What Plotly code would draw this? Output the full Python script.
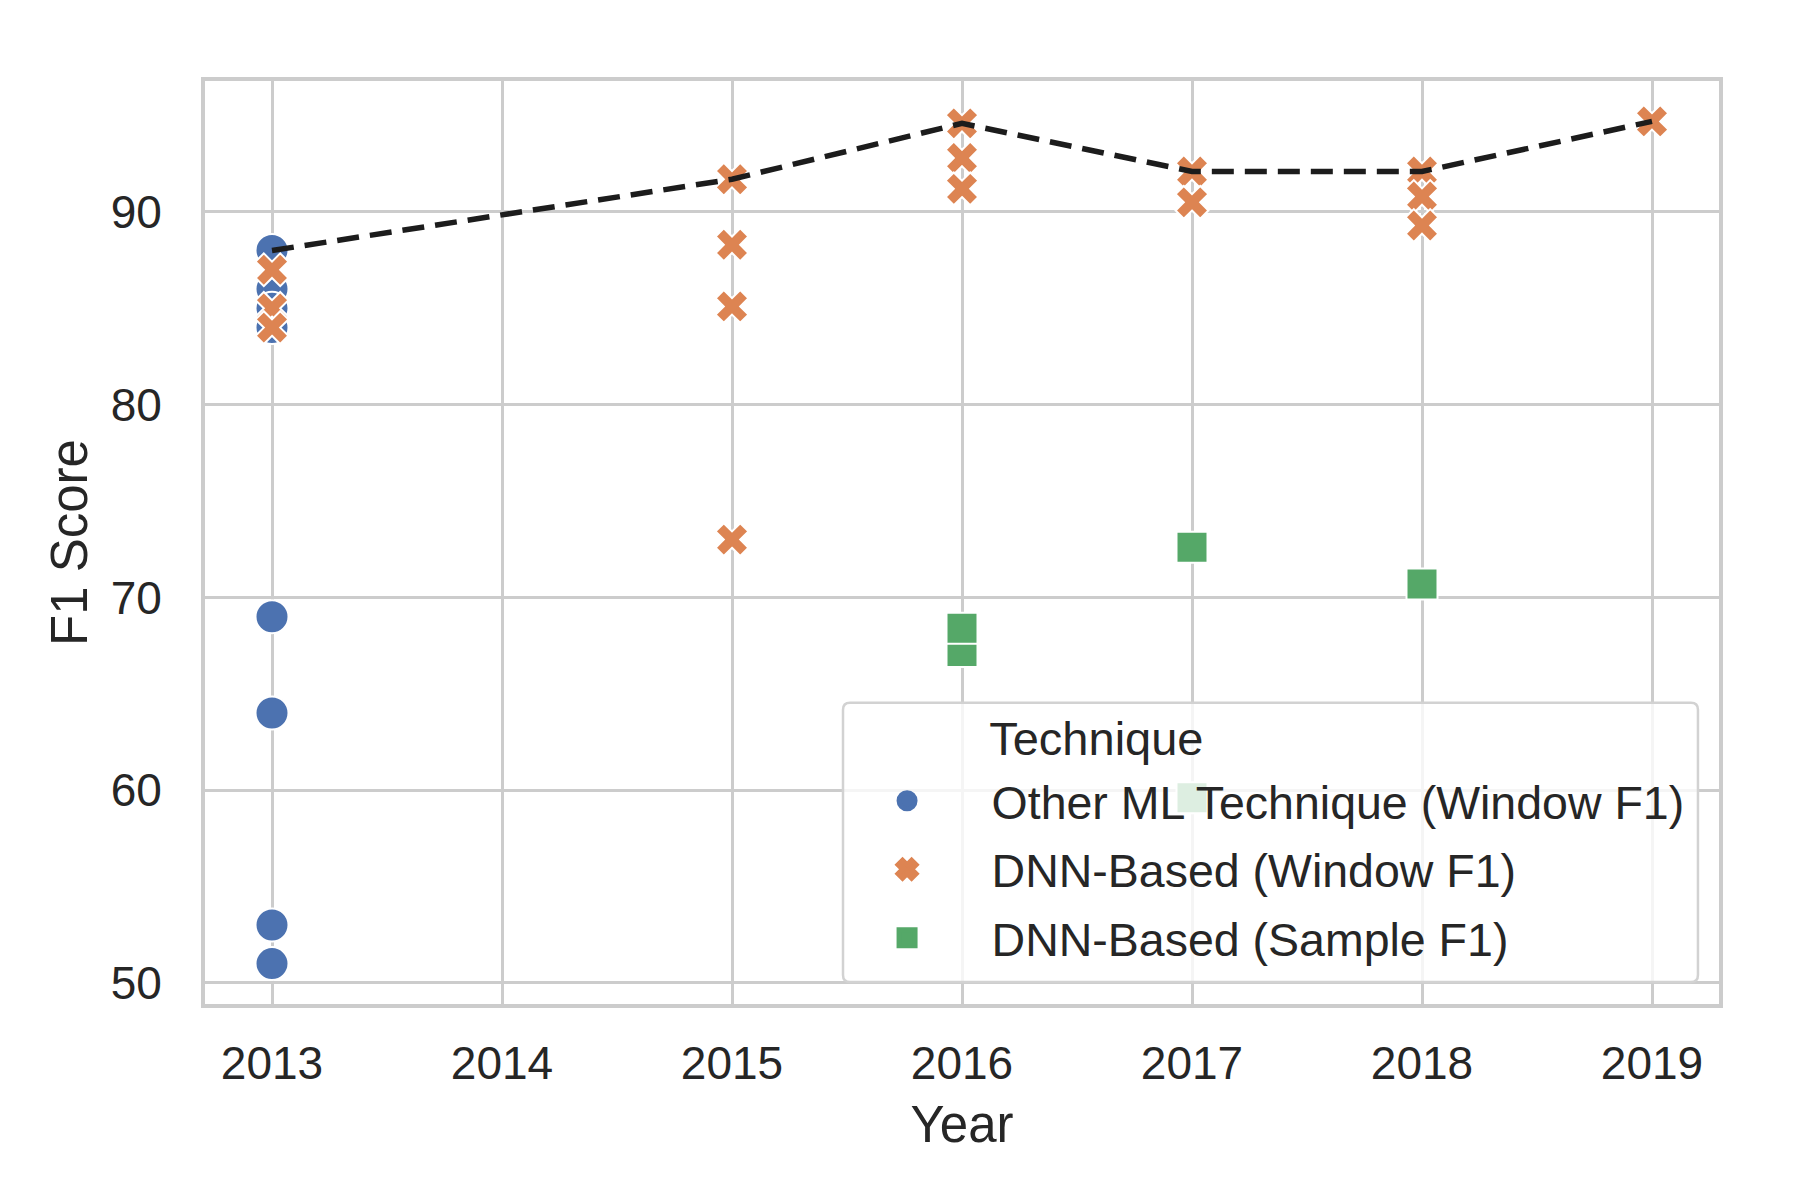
import plotly.graph_objects as go
import pandas as pd

# ---- data ----
other_years = [2013, 2013, 2013, 2013, 2013, 2013, 2013, 2013]
other_f1 = [88.0, 86.0, 85.0, 84.0, 69.0, 64.0, 53.0, 51.0]

dnn_win_years = [2013, 2013, 2013, 2015, 2015, 2015, 2015, 2016, 2016, 2016,
                 2017, 2017, 2018, 2018, 2018, 2019]
dnn_win_f1 = [87.0, 85.0, 84.0, 91.7, 88.3, 85.1, 73.0, 94.6, 92.8, 91.2,
              92.1, 90.5, 92.1, 90.8, 89.3, 94.7]

dnn_samp_years = [2016, 2016, 2017, 2017, 2018]
dnn_samp_f1 = [67.2, 68.4, 72.6, 59.6, 70.7]

series_names = ["Other ML Technique (Window F1)", "DNN-Based (Window F1)", "DNN-Based (Sample F1)"]
legend_title = "Technique"
year_ticks = [2013, 2014, 2015, 2016, 2017, 2018, 2019]
f1_ticks = [50, 60, 70, 80, 90]

# best score per year (dashed line)
all_df = pd.DataFrame({
    "year": other_years + dnn_win_years + dnn_samp_years,
    "f1": other_f1 + dnn_win_f1 + dnn_samp_f1,
})
best = all_df.groupby("year")["f1"].max().reset_index()

FONT = "Arial, Liberation Sans, sans-serif"
TXT = "#262626"
GRID = "#cccccc"
COLORS = ["#4C72B0", "#DD8452", "#55A868"]
SYMBOLS = ["circle", "x", "square"]
SIZES = [33, 29, 31]
GROUPS = ["a", "b", "c"]
xs = [other_years, dnn_win_years, dnn_samp_years]
ys = [other_f1, dnn_win_f1, dnn_samp_f1]

fig = go.Figure()
for i in range(3):
    fig.add_trace(go.Scatter(
        x=xs[i], y=ys[i], mode="markers", name=series_names[i],
        legendgroup=GROUPS[i], showlegend=False,
        marker=dict(symbol=SYMBOLS[i], size=SIZES[i], color=COLORS[i],
                    line=dict(color="white", width=2)),
    ))
# legend entries (bigger, solid symbols like the reference legend)
for i in range(3):
    fig.add_trace(go.Scatter(
        x=[None], y=[None], mode="markers", name=series_names[i],
        legendgroup=GROUPS[i], showlegend=True,
        marker=dict(symbol=SYMBOLS[i], size=SIZES[i], color=COLORS[i],
                    line=dict(color=COLORS[i], width=5)),
    ))
fig.add_trace(go.Scatter(
    x=best["year"], y=best["f1"], mode="lines", showlegend=False,
    line=dict(color="#1c1c1c", width=5.5, dash="22px,11px"),
))

axis_common = dict(
    showgrid=True, gridcolor=GRID, gridwidth=3.3,
    showline=True, linecolor=GRID, linewidth=4, mirror=True,
    zeroline=False,
    ticks="outside", tickcolor="rgba(0,0,0,0)",
    tickfont=dict(family=FONT, size=46, color=TXT),
)

# rounded legend frame (paper coordinates)
x0, x1, y0, y1 = 0.4214, 0.9861, 0.0238, 0.3265
rx, ry = 7 / 1514, 7 / 923
frame_path = (
    f"M {x0+rx},{y0} L {x1-rx},{y0} Q {x1},{y0} {x1},{y0+ry} "
    f"L {x1},{y1-ry} Q {x1},{y1} {x1-rx},{y1} "
    f"L {x0+rx},{y1} Q {x0},{y1} {x0},{y1-ry} "
    f"L {x0},{y0+ry} Q {x0},{y0} {x0+rx},{y0} Z"
)

title_html = ("\u00a0<br>" * 4
              + '<span style="font-size:49.4px">' + "\u00a0" * 12 + "</span>"
              + '<span style="font-size:47px">' + legend_title + "</span><br>\u00a0")

fig.update_layout(
    width=1800, height=1200,
    paper_bgcolor="white", plot_bgcolor="white",
    margin=dict(l=197, r=89, t=73, b=204),
    font=dict(family=FONT, color=TXT),
    xaxis=dict(range=[2012.7087, 2019.2913], tickvals=year_ticks,
               ticktext=[str(y) for y in year_ticks], ticklen=16,
               title=dict(text="Year", font=dict(family=FONT, size=51, color=TXT), standoff=19),
               **axis_common),
    yaxis=dict(range=[48.904, 96.796], tickvals=f1_ticks, ticklen=30,
               title=dict(text="F1 Score", font=dict(family=FONT, size=51, color=TXT), standoff=8),
               **axis_common),
    shapes=[dict(type="path", xref="paper", yref="paper", path=frame_path,
                 fillcolor="rgba(255,255,255,0.8)", line=dict(color="#d2d2d2", width=2.5),
                 layer="above")],
    legend=dict(
        title=dict(text=title_html, font=dict(family=FONT, size=7.0, color=TXT)),
        font=dict(family=FONT, size=46.5, color=TXT),
        bgcolor="rgba(0,0,0,0)", borderwidth=0,
        x=0.4079, xanchor="left", y=0.3191, yanchor="top",
        itemwidth=159, tracegroupgap=5, itemsizing="trace",
    ),
)

fig.write_html("out.html")
